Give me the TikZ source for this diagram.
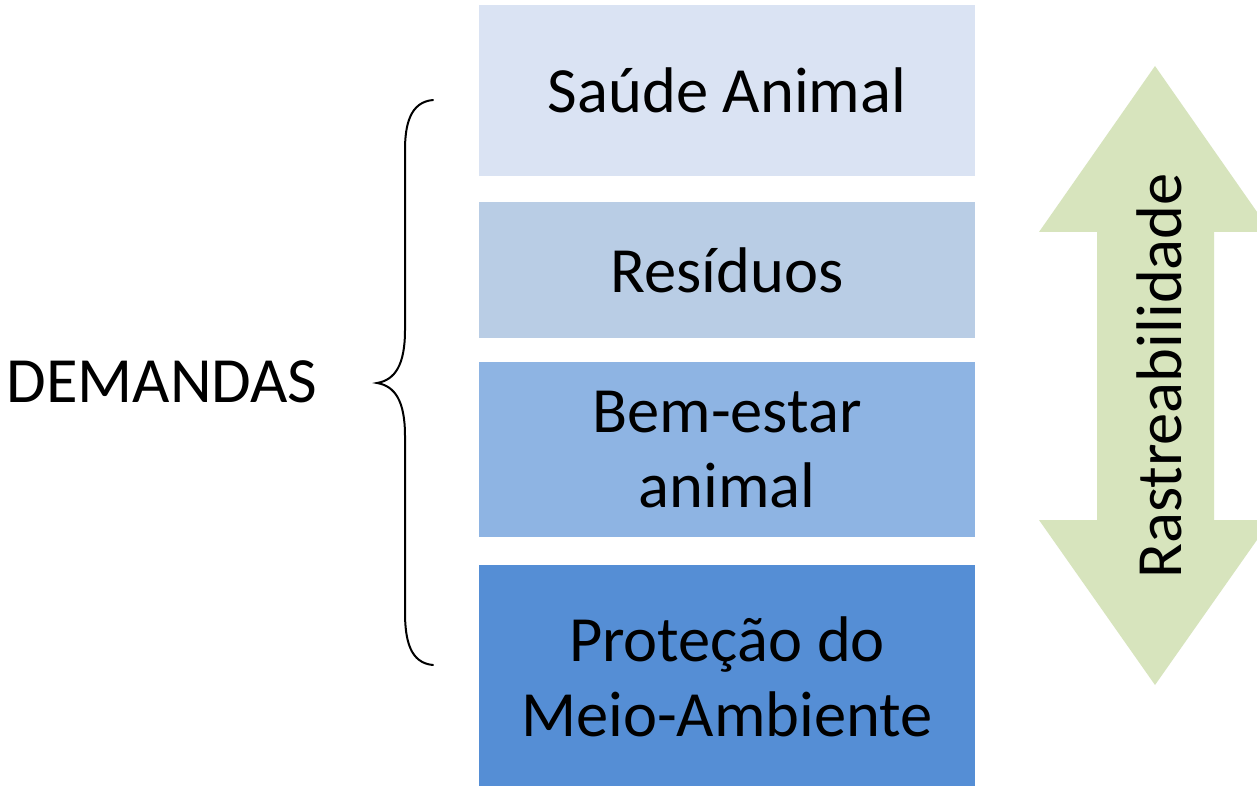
\documentclass[tikz,border=0pt]{standalone}
\usepackage{fontspec}
\setmainfont{Carlito}
\definecolor{c1}{HTML}{DAE3F3}
\definecolor{c2}{HTML}{B9CDE5}
\definecolor{c3}{HTML}{8EB4E3}
\definecolor{c4}{HTML}{558ED5}
\definecolor{arrowgreen}{HTML}{D7E4BD}
\tikzset{
  box/.style={rectangle, draw=none, minimum width=496pt, inner sep=0pt, align=center,
    font=\fontsize{64.5pt}{75pt}\selectfont},
  label/.style={inner sep=0pt, font=\fontsize{64.5pt}{75pt}\selectfont},
  brace/.style={draw=black, line width=2pt, line cap=round}
}
\begin{document}
\begin{tikzpicture}[x=1pt,y=-1pt]
\clip (0,0) rectangle (1257,786);
\fill[white] (0,0) rectangle (1257,786);
\node[box, fill=c1, minimum height=171pt] (b1) at (727,90.5) {Saúde Animal};
\node[box, fill=c2, minimum height=136pt] (b2) at (727,270) {Resíduos};
\node[box, fill=c3, minimum height=175pt] (b3) at (727,449.5) {Bem-estar\\animal};
\node[box, fill=c4, minimum height=223pt] (b4) at (727,676.5) {Proteção do\\Meio-Ambiente};
\node[label] (dem) at (162,382) {DEMANDAS};
\draw[brace] (433,100) .. controls (410,102) and (405,125) .. (405,150)
  -- (405,330) .. controls (405,365) and (395,380) .. (377,383)
  .. controls (395,386) and (405,401) .. (405,436)
  -- (405,612) .. controls (405,640) and (410,663) .. (433,665);
\fill[arrowgreen] (1155,66) -- (1271,232) -- (1214,232) -- (1214,520) -- (1271,520)
  -- (1155,685) -- (1039,520) -- (1097,520) -- (1097,232) -- (1039,232) -- cycle;
\node[label, rotate=90] (rast) at (1159,376) {Rastreabilidade};
\end{tikzpicture}
\end{document}
